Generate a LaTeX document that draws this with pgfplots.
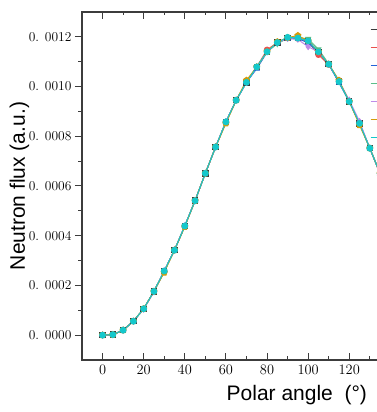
\documentclass[border=0pt]{standalone}
\usepackage{fontspec}
\setmainfont{Liberation Sans}
\newfontfamily\lmr{Latin Modern Roman}
\usepackage{pgfplots}
\pgfplotsset{compat=1.18}
\definecolor{spine}{HTML}{3C3C3C}
\definecolor{cK}{HTML}{3A3A3A}
\definecolor{cR}{HTML}{E8504C}
\definecolor{cB}{HTML}{2263D8}
\definecolor{cG}{HTML}{5BBF8A}
\definecolor{cV}{HTML}{BE8CE8}
\definecolor{cO}{HTML}{D49B0A}
\definecolor{cC}{HTML}{14C8CC}
\begin{document}
\begin{tikzpicture}
\useasboundingbox (0,0) rectangle (376pt,412pt);
\begin{axis}[
  at={(82pt,52pt)}, anchor=south west,
  scale only axis, width=390.6pt, height=348pt,
  xmin=-10, xmax=180, ymin=-0.0001, ymax=0.0013,
  axis line style={spine, line width=1.3pt},
  xtick={0,20,...,120}, minor xtick={10,30,...,170},
  ytick={0,0.0002,0.0004,0.0006,0.0008,0.0010,0.0012},
  yticklabels={0. 0000,0. 0002,0. 0004,0. 0006,0. 0008,0. 0010,0. 0012},
  minor y tick num=1,
  scaled y ticks=false,
  xtick align=inside, ytick align=outside,
  ytick pos=left,
  major tick length=7pt, minor tick length=3.5pt,
  every tick/.style={spine, line width=1pt},
  tick label style={font=\fontsize{13.5}{16}\selectfont\lmr},
  xticklabel style={yshift=-2pt},
  xlabel={Polar angle\ \ (°)},
  ylabel={Neutron flux (a.u.)},
  label style={font=\fontsize{21}{24}\selectfont},
  xlabel style={at={(axis description cs:0.55,0)}, anchor=base, yshift=-41pt},
  ylabel style={at={(axis description cs:-0.146,0.5)}, anchor=base},
  legend style={at={(axis cs:130.0,0.0012552)}, anchor=north west, draw=none, fill=none,
    inner sep=0pt, nodes={inner sep=0pt, text height=9pt, text depth=3pt},
    font=\fontsize{12}{14}\selectfont, row sep=6pt},
  legend cell align=left,
  legend image code/.code={\draw[mark repeat=2,mark phase=2,#1] plot coordinates {(0cm,0cm) (0.45cm,0cm) (0.9cm,0cm)};},
  every axis plot/.append style={line width=1pt, mark size=2.7pt},
]
\addplot[cK, mark=square*] coordinates {(0,0) (5,0.000002) (10,0.000020) (15,0.000056) (20,0.000106) (25,0.000176) (30,0.000258) (35,0.000342) (40,0.000439) (45,0.000541) (50,0.000651) (55,0.000757) (60,0.000858) (65,0.000945) (70,0.001017) (75,0.001079) (80,0.001140) (85,0.001177) (90,0.001195) (95,0.001195) (100,0.001184) (105,0.001140) (110,0.001090) (115,0.001020) (120,0.000940) (125,0.000852) (130,0.000752) (135,0.000650)};
\addlegendentry{$\varphi$ = 0°}
\addplot[cR, mark=*] coordinates {(0,0) (5,0.000002) (10,0.000020) (15,0.000056) (20,0.000106) (25,0.000176) (30,0.000258) (35,0.000342) (40,0.000439) (45,0.000541) (50,0.000651) (55,0.000757) (60,0.000858) (65,0.000945) (70,0.001017) (75,0.001079) (80,0.001148) (85,0.001177) (90,0.001195) (95,0.001193) (100,0.001182) (105,0.001128) (110,0.001088) (115,0.001020) (120,0.000940) (125,0.000852) (130,0.000752) (135,0.000650)};
\addlegendentry{$\varphi$ = 30°}
\addplot[cB, mark=triangle*] coordinates {(0,0) (5,0.000002) (10,0.000020) (15,0.000056) (20,0.000106) (25,0.000176) (30,0.000258) (35,0.000342) (40,0.000439) (45,0.000541) (50,0.000651) (55,0.000757) (60,0.000858) (65,0.000945) (70,0.001017) (75,0.001072) (80,0.001138) (85,0.001177) (90,0.001192) (95,0.001193) (100,0.001176) (105,0.001138) (110,0.001090) (115,0.001015) (120,0.000940) (125,0.000852) (130,0.000752) (135,0.000650)};
\addlegendentry{$\varphi$ = 60°}
\addplot[cG, mark=triangle*, mark options={rotate=180}] coordinates {(0,0) (5,0.000002) (10,0.000020) (15,0.000056) (20,0.000106) (25,0.000176) (30,0.000258) (35,0.000342) (40,0.000439) (45,0.000541) (50,0.000651) (55,0.000757) (60,0.000858) (65,0.000945) (70,0.001017) (75,0.001079) (80,0.001140) (85,0.001172) (90,0.001195) (95,0.001197) (100,0.001192) (105,0.001150) (110,0.001092) (115,0.001020) (120,0.000940) (125,0.000852) (130,0.000752) (135,0.000650)};
\addlegendentry{$\varphi$ = 90°}
\addplot[cV, mark=diamond*] coordinates {(0,0) (5,0.000002) (10,0.000020) (15,0.000056) (20,0.000104) (25,0.000174) (30,0.000258) (35,0.000342) (40,0.000439) (45,0.000541) (50,0.000651) (55,0.000757) (60,0.000858) (65,0.000945) (70,0.001017) (75,0.001079) (80,0.001140) (85,0.001177) (90,0.001193) (95,0.001190) (100,0.001160) (105,0.001140) (110,0.001090) (115,0.001022) (120,0.000946) (125,0.000860) (130,0.000752) (135,0.000650)};
\addlegendentry{$\varphi$ = 120°}
\addplot[cO, mark=pentagon*, mark size=3.1pt] coordinates {(0,0) (5,0.000002) (10,0.000020) (15,0.000056) (20,0.000106) (25,0.000176) (30,0.000252) (35,0.000342) (40,0.000436) (45,0.000541) (50,0.000651) (55,0.000757) (60,0.000852) (65,0.000945) (70,0.001025) (75,0.001079) (80,0.001140) (85,0.001180) (90,0.001197) (95,0.001205) (100,0.001184) (105,0.001140) (110,0.001090) (115,0.001025) (120,0.000940) (125,0.000845) (130,0.000752) (135,0.000650)};
\addlegendentry{$\varphi$ = 150°}
\addplot[cC, mark=*, mark size=2.9pt] coordinates {(0,0) (5,0.000002) (10,0.000020) (15,0.000056) (20,0.000106) (25,0.000176) (30,0.000258) (35,0.000342) (40,0.000439) (45,0.000541) (50,0.000651) (55,0.000757) (60,0.000858) (65,0.000945) (70,0.001017) (75,0.001079) (80,0.001140) (85,0.001177) (90,0.001198) (95,0.001195) (100,0.001184) (105,0.001140) (110,0.001090) (115,0.001020) (120,0.000940) (125,0.000852) (130,0.000752) (135,0.000650)};
\addlegendentry{$\varphi$ = 180°}
\end{axis}
\end{tikzpicture}
\end{document}
